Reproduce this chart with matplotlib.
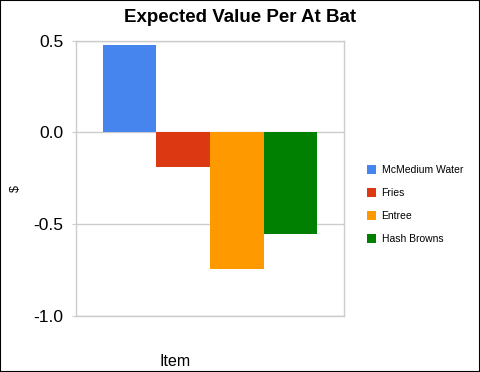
import matplotlib
matplotlib.use('Agg')
import matplotlib.pyplot as plt
import matplotlib.patches as patches

plt.rcParams['font.family'] = ['Liberation Sans', 'DejaVu Sans']

# data
ITEMS = ['McMedium Water', 'Fries', 'Entree', 'Hash Browns']
VALUES = [0.474, -0.19, -0.743, -0.554]
COLORS = ['#4684ee', '#dc3912', '#ff9900', '#008000']
YTICKS = [-1.0, -0.5, 0.0, 0.5]
YTICKLABELS = ['-1.0', '-0.5', '0.0', '0.5']

fig = plt.figure(figsize=(4.8, 3.72), dpi=100, facecolor='w')
ax = fig.add_axes([76/480, 1-316/372, 268/480, (316-40.7)/372])

for i, (name, v, c) in enumerate(zip(ITEMS, VALUES, COLORS)):
    ax.bar(i, v, width=1.0, color=c, label=name, zorder=3)

ax.set_xlim(-1, 4)
ax.set_ylim(-1.0, 0.5)
ax.set_xticks([])
ax.set_yticks(YTICKS)
ax.set_yticklabels(YTICKLABELS, fontsize=12.5)
ax.grid(axis='y', color='#cccccc', linewidth=1, zorder=0)
ax.tick_params(axis='y', length=3, color='#cccccc', pad=6)
for s in ax.spines.values():
    s.set_color('#cccccc')
    s.set_linewidth(1)

fig.text(0.5, 1-17/372, 'Expected Value Per At Bat', ha='center', va='center',
         fontsize=13.5, fontweight='bold')
fig.text(175/480, 1-361/372, 'Item', ha='center', va='center', fontsize=11.5)
fig.text(16/480, 1-189/372, '$', ha='center', va='center', fontsize=9, rotation=90)

fig.legend(loc='center left', bbox_to_anchor=(367/480, 1-204.5/372), frameon=False,
           fontsize=7.5, borderpad=0, borderaxespad=0, handlelength=0.9,
           handleheight=0.9, handletextpad=0.5, labelspacing=1.25)

# black border around the whole picture
fig.patches.append(patches.Rectangle((0, 0), 1, 1, transform=fig.transFigure,
                                     fill=False, edgecolor='black', linewidth=1.5))

plt.savefig('out.png', dpi=100)
